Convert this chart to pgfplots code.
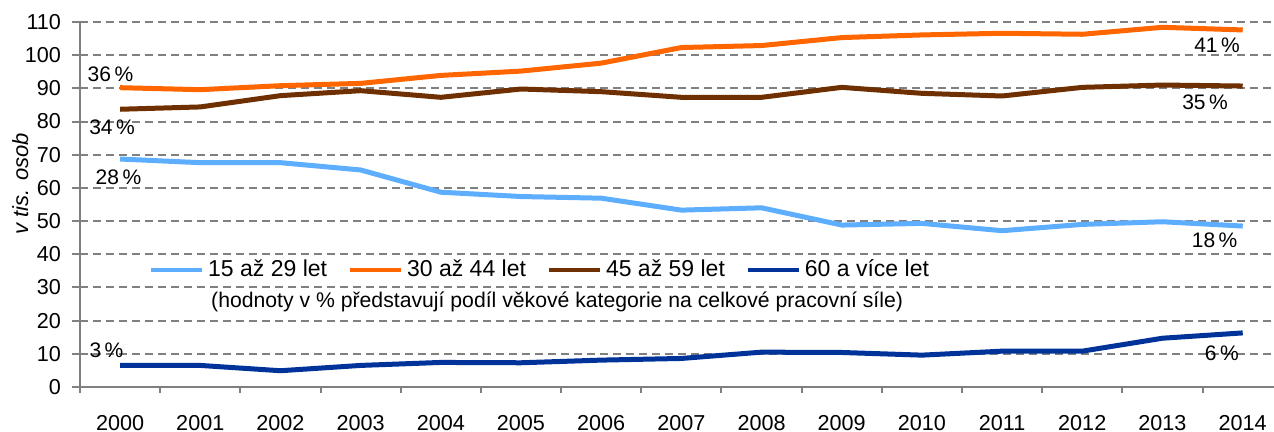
\documentclass[border=0pt]{standalone}
\usepackage{fontspec}
\setmainfont{Liberation Sans}
\usepackage{pgfplots}
\pgfplotsset{compat=1.18}
\definecolor{cLight}{RGB}{93,174,255}
\definecolor{cOrange}{RGB}{255,102,0}
\definecolor{cBrown}{RGB}{110,48,0}
\definecolor{cNavy}{RGB}{0,51,153}
\definecolor{cGrid}{RGB}{128,128,128}

\begin{document}
\begin{tikzpicture}
\begin{axis}[scale only axis,width=597pt,height=182.5pt,
 xmin=1999.5,xmax=2014.39,ymin=0,ymax=110,
 axis lines=left,axis line style={-,cGrid,line width=1pt},
 ytick={0,10,...,110},ymajorgrids,
 grid style={cGrid,line width=1pt,dash pattern=on 4pt off 2.5pt},
 xtick={2000,...,2014},minor xtick={1999.5,2000.5,...,2013.5},
 tick align=outside,major tick length=4pt,minor tick length=3pt,
 major x tick style={draw=none},minor x tick style={cGrid,line width=1pt},
 ytick style={cGrid,line width=1pt},
 tick label style={font=\fontsize{10.8}{12}\selectfont},
 xticklabel style={yshift=-6.5pt},
 yticklabel style={xshift=-2pt},
 /pgf/number format/assume math mode=true,/pgf/number format/1000 sep={},
 ylabel={\itshape v tis. osob},
 ylabel style={at={(axis description cs:-0.05,0.557)},anchor=center,font=\fontsize{11}{13}\selectfont},
 clip=false,
 legend columns=4,
 legend style={at={(axis cs:2005.25,35.3)},anchor=center,draw=none,fill=none,
   font=\fontsize{11.5}{13}\selectfont,
   /tikz/every even column/.append style={column sep=8.5pt}},
 legend image code/.code={\draw[#1,line width=2pt] (0pt,0pt) -- (25.5pt,0pt);},
 every axis plot/.append style={line width=2.5pt,line join=round}]
\addplot[cLight] coordinates {(2000,68.7)(2001,67.6)(2002,67.6)(2003,65.4)(2004,58.7)(2005,57.4)(2006,56.9)(2007,53.3)(2008,54.0)(2009,48.8)(2010,49.3)(2011,47.1)(2012,49.0)(2013,49.8)(2014,48.5)};
\addplot[cOrange] coordinates {(2000,90.2)(2001,89.6)(2002,90.8)(2003,91.5)(2004,93.9)(2005,95.2)(2006,97.6)(2007,102.3)(2008,102.9)(2009,105.3)(2010,106.1)(2011,106.6)(2012,106.3)(2013,108.4)(2014,107.6)};
\addplot[cBrown] coordinates {(2000,83.7)(2001,84.4)(2002,87.8)(2003,89.3)(2004,87.3)(2005,89.8)(2006,89.0)(2007,87.3)(2008,87.3)(2009,90.3)(2010,88.5)(2011,87.7)(2012,90.3)(2013,91.0)(2014,90.7)};
\addplot[cNavy] coordinates {(2000,6.5)(2001,6.5)(2002,4.9)(2003,6.5)(2004,7.4)(2005,7.3)(2006,8.1)(2007,8.6)(2008,10.5)(2009,10.4)(2010,9.6)(2011,10.8)(2012,10.8)(2013,14.7)(2014,16.3)};
\legend{15 až 29 let,30 až 44 let,45 až 59 let,60 a více let}
\node[font=\fontsize{10.6}{12}\selectfont] at (axis cs:2005.45,25.6) {(hodnoty v \% představují podíl věkové kategorie na celkové pracovní síle)};
\begin{scope}[every node/.style={font=\fontsize{10.5}{12}\selectfont}]
\node at (axis cs:1999.88,94.3) {36\,\%};
\node at (axis cs:1999.9,78.4) {34\,\%};
\node at (axis cs:1999.98,63.3) {28\,\%};
\node at (axis cs:1999.83,11.2) {3\,\%};
\node at (axis cs:2013.68,103.1) {41\,\%};
\node at (axis cs:2013.53,85.9) {35\,\%};
\node at (axis cs:2013.65,44.3) {18\,\%};
\node at (axis cs:2013.74,10.2) {6\,\%};
\end{scope}
\end{axis}
\pgfresetboundingbox
\path (-40pt,-22.5pt) rectangle (597pt,193.5pt);
\end{tikzpicture}
\end{document}
